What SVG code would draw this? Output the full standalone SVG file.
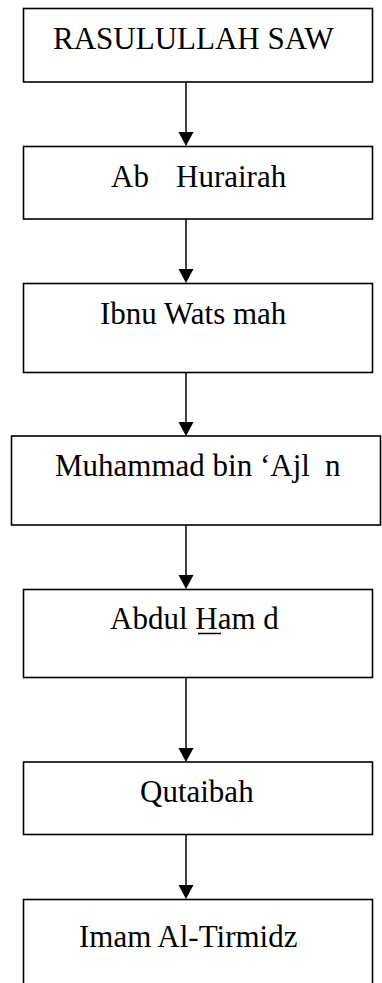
<svg xmlns="http://www.w3.org/2000/svg" width="382" height="983" viewBox="0 0 382 983">
<style>
.box{fill:#fff;stroke:#000;stroke-width:1.6}
.t{font-family:"Liberation Serif","Times New Roman",serif;font-size:31px;fill:#000}
.c{stroke:#000;stroke-width:1.5;fill:none}
.ah{fill:#000}
</style>
<rect width="382" height="983" fill="#fff"/>
<g id="connectors">
<line class="c" x1="186" y1="82" x2="186" y2="133"/><polygon class="ah" points="178.5,132 193.5,132 186,146"/>
<line class="c" x1="186" y1="219" x2="186" y2="270"/><polygon class="ah" points="178.5,269 193.5,269 186,283"/>
<line class="c" x1="186" y1="372" x2="186" y2="423"/><polygon class="ah" points="178.5,422 193.5,422 186,436"/>
<line class="c" x1="186" y1="525" x2="186" y2="576"/><polygon class="ah" points="178.5,575 193.5,575 186,589"/>
<line class="c" x1="186" y1="678" x2="186" y2="749"/><polygon class="ah" points="178.5,748 193.5,748 186,762"/>
<line class="c" x1="186" y1="834" x2="186" y2="886"/><polygon class="ah" points="178.5,885 193.5,885 186,899"/>
</g>
<g id="n1"><rect class="box" x="23.5" y="8.5" width="349" height="73.5"/><text class="t" x="53" y="48.5">RASULULLAH SAW</text></g>
<g id="n2"><rect class="box" x="23.5" y="146.5" width="349" height="72.5"/><text class="t" x="111" y="187">Ab<tspan x="176">Hurairah</tspan></text></g>
<g id="n3"><rect class="box" x="23.5" y="283.5" width="349" height="89"/><text class="t" x="100" y="323.5">Ibnu Wats mah</text></g>
<g id="n4"><rect class="box" x="11.5" y="436" width="369" height="89"/><text class="t" x="55" y="476">Muhammad bin ‘Ajl<tspan x="325">n</tspan></text></g>
<g id="n5"><rect class="box" x="23.5" y="589.5" width="349" height="88"/><text class="t" x="110" y="629">Abdul Ham d</text><line x1="198" y1="633.5" x2="221" y2="633.5" stroke="#000" stroke-width="1.5"/></g>
<g id="n6"><rect class="box" x="23.5" y="762" width="349" height="72.5"/><text class="t" x="140" y="802">Qutaibah</text></g>
<g id="n7"><rect class="box" x="23.5" y="899.5" width="349" height="100"/><text class="t" x="79" y="947">Imam Al-Tirmidz</text></g>
</svg>
